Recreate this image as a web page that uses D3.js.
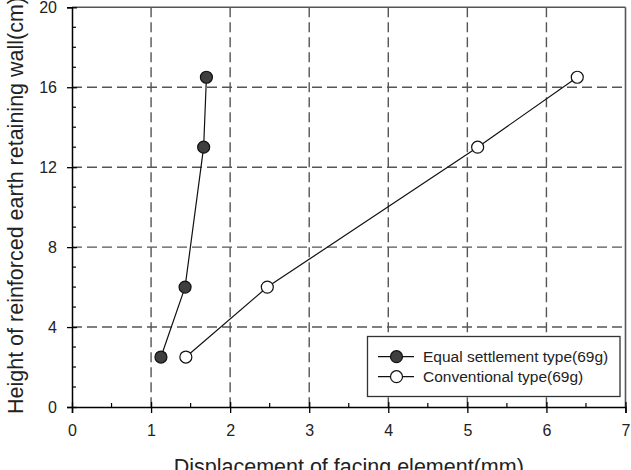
<!DOCTYPE html>
<html><head><meta charset="utf-8">
<script src="https://cdn.jsdelivr.net/npm/d3@7"></script>
<style>body{margin:0;background:#fff}svg{display:block}text{font-family:"Liberation Sans",Arial,sans-serif}</style>
</head><body><svg id="c" width="631" height="470"></svg>
<script>
const xTicks = [0,1,2,3,4,5,6,7];
const yTicks = [0,4,8,12,16,20];
const equalX = [1.125, 1.43, 1.665, 1.70];
const equalY = [2.5, 6.0, 13.0, 16.5];
const convX = [1.44, 2.47, 5.13, 6.39];
const convY = [2.5, 6.0, 13.0, 16.5];
const seriesNames = ["Equal settlement type(69g)", "Conventional type(69g)"];
const xTitle = "Displacement of facing element(mm)";
const yTitle = "Height of reinforced earth retaining wall(cm)";

const svg = d3.select("#c");
const L = 72, R = 625.5, T = 7.3, B = 407;
const x = d3.scaleLinear().domain([0,7]).range([L,R]);
const y = d3.scaleLinear().domain([0,20]).range([B,T]);
const FONT = "Liberation Sans, Arial, sans-serif";

// grid
const g = svg.append("g");
g.selectAll(".gx").data(xTicks.slice(1,-1)).enter().append("line")
  .attr("x1",d=>x(d)).attr("x2",d=>x(d)).attr("y1",T).attr("y2",B)
  .attr("stroke","#555").attr("stroke-width",1.4).attr("stroke-dasharray","10,5");
g.selectAll(".gy").data(yTicks.slice(1,-1)).enter().append("line")
  .attr("y1",d=>y(d)).attr("y2",d=>y(d)).attr("x1",L).attr("x2",R)
  .attr("stroke","#555").attr("stroke-width",1.4).attr("stroke-dasharray","10,5");

// frame top/right
svg.append("line").attr("x1",L).attr("x2",R).attr("y1",T).attr("y2",T).attr("stroke","#555").attr("stroke-width",1.6);
svg.append("line").attr("x1",R).attr("x2",R).attr("y1",T).attr("y2",B).attr("stroke","#555").attr("stroke-width",1.6);

// axes
const xAxis = svg.append("g").attr("transform",`translate(0,${B})`)
  .call(d3.axisBottom(x).tickValues(xTicks).tickSize(6).tickPadding(12).tickFormat(d3.format("d")));
const yAxis = svg.append("g").attr("transform",`translate(${L},0)`)
  .call(d3.axisLeft(y).tickValues(yTicks).tickSize(5).tickPadding(10).tickFormat(d3.format("d")));
[xAxis,yAxis].forEach(a=>{
  a.attr("font-size",16).attr("font-family",FONT);
  a.select(".domain").attr("stroke","#000").attr("stroke-width",1.5);
  a.selectAll(".tick line").attr("stroke","#000").attr("stroke-width",1.3);
  a.selectAll(".tick text").attr("font-size",16).attr("fill","#222");
});
// major ticks also extend slightly inside
xAxis.selectAll(".tick").append("line").attr("y1",0).attr("y2",-5).attr("stroke","#000").attr("stroke-width",1.3);
yAxis.selectAll(".tick").append("line").attr("x1",0).attr("x2",5).attr("stroke","#000").attr("stroke-width",1.3);
// minor ticks
const xMinor = d3.range(0.5,7,1);
const yMinor = d3.range(1,20,1).filter(v=>v%4!==0);
svg.append("g").selectAll("line").data(xMinor).enter().append("line")
  .attr("x1",d=>x(d)).attr("x2",d=>x(d)).attr("y1",B).attr("y2",B-4).attr("stroke","#000").attr("stroke-width",1.2);
svg.append("g").selectAll("line").data(yMinor).enter().append("line")
  .attr("y1",d=>y(d)).attr("y2",d=>y(d)).attr("x1",L).attr("x2",L+4).attr("stroke","#000").attr("stroke-width",1.2);

// series
const series = [
  {xs:equalX, ys:equalY, fill:"#3f3f3f"},
  {xs:convX, ys:convY, fill:"#fff"}
];
const line = d3.line().x(d=>x(d[0])).y(d=>y(d[1]));
series.forEach(s=>{
  const pts = s.xs.map((v,i)=>[v,s.ys[i]]);
  svg.append("path").attr("d",line(pts)).attr("fill","none").attr("stroke","#111").attr("stroke-width",1.2);
  svg.append("g").selectAll("circle").data(pts).enter().append("circle")
    .attr("cx",d=>x(d[0])).attr("cy",d=>y(d[1])).attr("r",6)
    .attr("fill",s.fill).attr("stroke","#111").attr("stroke-width",1.2);
});

// legend
const lg = svg.append("g");
lg.append("rect").attr("x",367.5).attr("y",336.5).attr("width",252.5).attr("height",60)
  .attr("fill","#fff").attr("stroke","#333").attr("stroke-width",1.3);
series.forEach((s,i)=>{
  const yy = 356.7 + i*20;
  lg.append("line").attr("x1",378).attr("x2",414).attr("y1",yy).attr("y2",yy).attr("stroke","#111").attr("stroke-width",1.2);
  lg.append("circle").attr("cx",396.5).attr("cy",yy).attr("r",6).attr("fill",s.fill).attr("stroke","#111").attr("stroke-width",1.2);
  lg.append("text").attr("x",423).attr("y",yy).attr("dy","0.35em").attr("font-size",15.5).attr("fill","#222").text(seriesNames[i]);
});

// titles
svg.append("text").attr("x",(L+R)/2).attr("y",474).attr("text-anchor","middle").attr("font-size",21.5).attr("fill","#222").text(xTitle);
svg.append("text").attr("transform",`translate(23,205.5) rotate(-90)`).attr("text-anchor","middle").attr("font-size",21.5).attr("fill","#222").text(yTitle);
</script></body></html>
